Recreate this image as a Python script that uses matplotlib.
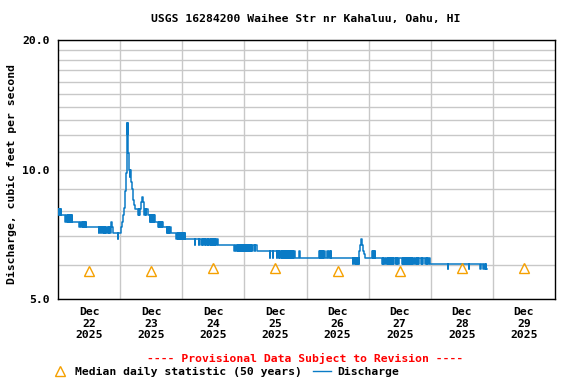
import matplotlib
matplotlib.use("Agg")
import matplotlib.pyplot as plt
from matplotlib.ticker import FixedLocator, FormatStrFormatter, NullFormatter
from matplotlib.lines import Line2D

# ---------------- data (hours since Dec 22 2025 00:00, cfs) ----------------
dec22 = [(0.0, 8.10), (0.25, 7.84), (0.5, 8.10), (0.75, 7.84), (1.0, 8.10), (1.2, 7.84),
         (2.8, 7.57), (3.0, 7.84), (3.5, 7.57), (3.75, 7.84), (4.0, 7.57), (4.25, 7.84),
         (4.5, 7.57), (4.75, 7.84), (5.0, 7.57), (5.25, 7.84), (5.5, 7.57),
         (8.25, 7.34), (8.5, 7.57), (9.0, 7.34), (9.25, 7.57), (9.5, 7.34), (9.75, 7.57),
         (10.0, 7.34), (10.25, 7.57), (10.5, 7.34), (10.75, 7.57), (11.0, 7.34),
         (15.7, 7.10), (15.9, 7.34), (16.6, 7.10), (16.8, 7.34), (17.3, 7.10), (17.55, 7.34),
         (17.8, 7.10), (18.05, 7.34), (18.3, 7.10), (18.55, 7.34), (19.1, 7.10), (19.35, 7.34),
         (19.6, 7.10), (19.85, 7.34), (20.1, 7.10), (20.6, 7.57), (20.9, 7.34), (21.2, 7.10),
         (23.0, 6.88), (23.2, 7.10)]
dec23 = [(24.4, 7.34), (24.8, 7.57), (25.2, 7.84), (25.5, 8.15), (25.9, 8.90), (26.2, 9.80),
         (26.5, 12.8), (26.7, 12.1), (26.85, 12.8), (27.0, 11.6), (27.2, 10.9), (27.5, 10.0),
         (27.7, 9.6), (27.9, 10.0), (28.1, 9.36), (28.4, 9.0), (28.8, 8.62), (29.1, 8.5),
         (29.5, 8.27), (29.9, 8.10),
         (30.9, 7.84), (31.15, 8.10), (31.4, 7.84), (31.65, 8.10), (32.1, 8.40), (32.4, 8.62),
         (32.8, 8.40), (33.1, 8.10), (33.35, 7.84), (33.6, 8.10), (33.85, 7.84), (34.1, 8.10),
         (34.6, 7.84),
         (35.4, 7.57), (35.65, 7.84), (35.9, 7.57), (36.15, 7.84), (36.4, 7.57), (36.65, 7.84),
         (36.9, 7.57), (37.15, 7.84), (37.4, 7.57),
         (38.6, 7.34), (38.85, 7.57), (39.1, 7.34), (39.35, 7.57), (39.6, 7.34), (39.85, 7.57),
         (40.1, 7.34), (40.35, 7.57), (40.6, 7.34),
         (42.0, 7.10), (42.25, 7.34), (42.5, 7.10), (42.75, 7.34), (43.0, 7.10), (43.25, 7.34),
         (43.5, 7.10),
         (45.7, 6.88), (45.95, 7.10), (46.2, 6.88), (46.45, 7.10), (46.7, 6.88), (46.95, 7.10),
         (47.2, 6.88), (47.45, 7.10), (47.7, 6.88), (47.95, 7.10)]
dec24 = [(48.2, 6.88), (48.45, 7.10), (48.7, 6.88), (48.95, 7.10), (49.2, 6.88),
         (52.8, 6.67), (53.05, 6.88), (54.3, 6.67), (54.55, 6.88), (55.4, 6.67), (55.65, 6.88),
         (55.9, 6.67), (56.15, 6.88), (56.7, 6.67), (56.95, 6.88), (57.3, 6.67), (57.55, 6.88),
         (57.8, 6.67), (58.05, 6.88), (58.5, 6.67), (58.75, 6.88), (59.0, 6.67), (59.25, 6.88),
         (59.5, 6.67), (59.75, 6.88), (60.0, 6.67), (60.25, 6.88), (60.5, 6.67), (60.75, 6.88),
         (61.0, 6.67), (61.25, 6.88), (61.7, 6.67),
         (68.0, 6.45), (68.25, 6.67), (68.9, 6.45), (69.15, 6.67), (69.4, 6.45), (69.65, 6.67),
         (69.9, 6.45), (70.15, 6.67), (70.4, 6.45), (70.65, 6.67), (70.9, 6.45), (71.15, 6.67),
         (71.4, 6.45), (71.65, 6.67), (71.9, 6.45)]
dec25 = [(72.15, 6.67), (72.4, 6.45), (72.65, 6.67), (72.9, 6.45), (73.15, 6.67), (73.4, 6.45),
         (73.65, 6.67), (73.9, 6.45), (74.15, 6.67), (74.4, 6.45), (74.7, 6.67), (75.1, 6.45),
         (75.3, 6.67), (76.0, 6.45), (76.2, 6.67), (77.0, 6.45),
         (81.8, 6.24), (82.05, 6.45), (82.9, 6.24), (83.15, 6.45), (84.5, 6.24), (84.75, 6.45),
         (85.3, 6.24), (85.55, 6.45), (85.9, 6.24), (86.15, 6.45), (86.4, 6.24), (86.65, 6.45),
         (86.9, 6.24), (87.15, 6.45), (87.4, 6.24), (87.65, 6.45), (87.9, 6.24), (88.15, 6.45),
         (88.4, 6.24), (88.65, 6.45), (88.9, 6.24), (89.15, 6.45), (89.4, 6.24), (89.65, 6.45),
         (89.9, 6.24), (90.15, 6.45), (90.4, 6.24), (90.65, 6.45), (90.9, 6.24), (91.15, 6.45),
         (91.5, 6.24), (93.1, 6.45), (93.3, 6.24)]
dec26 = [(100.8, 6.45), (101.05, 6.24), (101.3, 6.45), (101.55, 6.24), (101.8, 6.45),
         (102.05, 6.24), (102.3, 6.45), (102.55, 6.24), (102.8, 6.45), (103.1, 6.24),
         (104.0, 6.45), (104.2, 6.24), (104.8, 6.45), (105.0, 6.24), (105.3, 6.45), (105.5, 6.24),
         (113.9, 6.03), (114.15, 6.24), (114.6, 6.03), (114.85, 6.24), (115.1, 6.03),
         (115.35, 6.24), (115.6, 6.03), (115.85, 6.24), (116.1, 6.03),
         (116.4, 6.45), (116.7, 6.67), (117.0, 6.88), (117.4, 6.67), (117.8, 6.45),
         (118.2, 6.35), (118.6, 6.24)]
dec27 = [(121.3, 6.45), (121.55, 6.24), (121.8, 6.45), (122.05, 6.24), (122.3, 6.45),
         (122.55, 6.24),
         (125.2, 6.03), (125.45, 6.24), (125.7, 6.03), (126.0, 6.24), (126.3, 6.03),
         (126.55, 6.24), (127.1, 6.03), (127.35, 6.24), (127.6, 6.03), (127.85, 6.24),
         (128.1, 6.03), (128.35, 6.24), (128.6, 6.03), (128.85, 6.24), (129.1, 6.03),
         (129.35, 6.24), (129.6, 6.03), (129.85, 6.24), (130.4, 6.03), (130.65, 6.24),
         (130.9, 6.03), (131.15, 6.24), (131.4, 6.03), (131.65, 6.24), (132.9, 6.03),
         (133.15, 6.24), (133.4, 6.03), (133.65, 6.24), (133.9, 6.03), (134.15, 6.24),
         (134.4, 6.03), (134.65, 6.24), (134.9, 6.03), (135.15, 6.24), (135.4, 6.03),
         (135.65, 6.24), (135.9, 6.03), (136.15, 6.24), (136.4, 6.03), (136.65, 6.24),
         (136.9, 6.03), (137.15, 6.24), (137.4, 6.03), (137.75, 6.24), (138.25, 6.03),
         (138.5, 6.24), (138.75, 6.03), (139.0, 6.24), (139.25, 6.03), (139.5, 6.24),
         (140.3, 6.03), (140.55, 6.24), (140.8, 6.03), (141.1, 6.24), (141.9, 6.03),
         (142.15, 6.24), (142.4, 6.03), (142.65, 6.24), (142.9, 6.03), (143.15, 6.24),
         (143.7, 6.03)]
dec28 = [(150.6, 5.88), (150.8, 6.03), (158.6, 5.88), (158.8, 6.03), (163.1, 5.88),
         (163.3, 6.03), (164.2, 5.88), (164.4, 6.03), (164.9, 5.88), (165.2, 6.03),
         (165.4, 5.88), (165.8, 5.88)]

median_hours = [12, 36, 60, 84, 108, 132, 156, 180]
median_values = [5.8, 5.8, 5.9, 5.9, 5.8, 5.8, 5.9, 5.9]

day_tick_hours = [12, 36, 60, 84, 108, 132, 156, 180]
day_labels = ["Dec\n22\n2025", "Dec\n23\n2025", "Dec\n24\n2025", "Dec\n25\n2025",
              "Dec\n26\n2025", "Dec\n27\n2025", "Dec\n28\n2025", "Dec\n29\n2025"]
midnight_hours = [24, 48, 72, 96, 120, 144, 168]
y_major = [5, 10, 20]
y_minor = [6, 7, 8, 9, 11, 12, 13, 14, 15, 16, 17, 18, 19]

# ---------------- figure ----------------
plt.rcParams['font.family'] = ['DejaVu Sans Mono']
plt.rcParams['font.weight'] = 'bold'
FS = 8.2
BLUE = '#0a7bc6'
ORANGE = '#f5a000'

readings = dec22 + dec23 + dec24 + dec25 + dec26 + dec27 + dec28
hours = [p[0] for p in readings]
flows = [p[1] for p in readings]

fig = plt.figure(figsize=(5.76, 3.84), dpi=100)
ax = fig.add_axes([58 / 576, 85 / 384, 497 / 576, 259 / 384])
ax.set_yscale('log')
ax.set_xlim(0, 192)
ax.set_ylim(5, 20)

ax.plot(hours, flows, drawstyle='steps-post', color=BLUE, lw=1.1, zorder=3)
ax.plot(median_hours, median_values, ls='none', marker='^', ms=6.5,
        mfc='none', mec=ORANGE, mew=1.0, zorder=4)

ax.yaxis.set_major_locator(FixedLocator(y_major))
ax.yaxis.set_minor_locator(FixedLocator(y_minor))
ax.yaxis.set_major_formatter(FormatStrFormatter('%.1f'))
ax.yaxis.set_minor_formatter(NullFormatter())
ax.xaxis.set_major_locator(FixedLocator(day_tick_hours))
ax.xaxis.set_minor_locator(FixedLocator(midnight_hours))
ax.set_xticklabels(day_labels)

ax.grid(which='both', axis='y', color='#c8c8c8', lw=1.0, zorder=0)
ax.grid(which='minor', axis='x', color='#c8c8c8', lw=1.0, zorder=0)
ax.grid(which='major', axis='x', visible=False)
ax.set_axisbelow(True)

ax.tick_params(which='both', length=0)
ax.tick_params(axis='y', pad=6, labelsize=FS)
ax.tick_params(axis='x', pad=6, labelsize=FS)
for lab in ax.get_xticklabels():
    lab.set_linespacing(1.15)
    lab.set_fontweight('bold')
for lab in ax.get_yticklabels():
    lab.set_fontweight('bold')

for sp in ax.spines.values():
    sp.set_color('black')
    sp.set_linewidth(1.0)

fig.text(306 / 576, 1 - 19 / 384, "USGS 16284200 Waihee Str nr Kahaluu, Oahu, HI",
         ha='center', va='center', fontsize=FS, fontweight='bold')
fig.text(12 / 576, 1 - 174 / 384, "Discharge, cubic feet per second",
         ha='center', va='center', rotation=90, fontsize=FS, fontweight='bold')
fig.text(305.5 / 576, 1 - 358 / 384, "---- Provisional Data Subject to Revision ----",
         ha='center', va='center', fontsize=FS, fontweight='bold', color='red')

# legend
fig.add_artist(Line2D([60 / 576], [1 - 371 / 384], transform=fig.transFigure, ls='none',
                      marker='^', ms=6.5, mfc='none', mec=ORANGE, mew=1.0))
fig.text(75 / 576, 1 - 372 / 384, "Median daily statistic (50 years)",
         ha='left', va='center', fontsize=FS, fontweight='bold')
fig.add_artist(Line2D([313 / 576, 331 / 576], [1 - 371 / 384, 1 - 371 / 384],
                      transform=fig.transFigure, color=BLUE, lw=1.0))
fig.text(337 / 576, 1 - 372 / 384, "Discharge",
         ha='left', va='center', fontsize=FS, fontweight='bold')

fig.savefig("out.png", dpi=100)
